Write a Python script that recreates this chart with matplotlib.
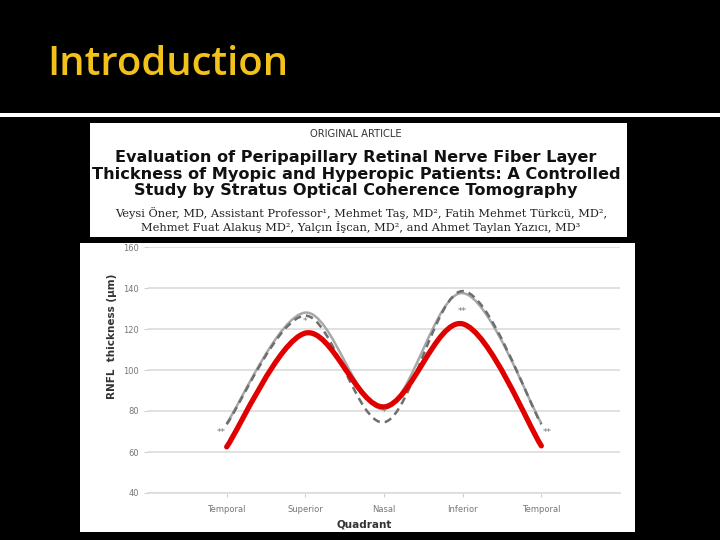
import numpy as np
import matplotlib
matplotlib.use("Agg")
import matplotlib.pyplot as plt
from matplotlib.path import Path
from matplotlib.patches import PathPatch, Rectangle

# data
quadrants = ["Temporal", "Superior", "Nasal", "Inferior", "Temporal"]
control_gray = [74, 128, 81, 137.5, 74]     # solid light gray
myopic_dash = [73.5, 126.5, 74.5, 138.5, 73.5]  # dashed dark gray
hyper_red = [62.5, 118, 82, 122.5, 63]     # red hand-drawn line

# significance marks (quadrant position, value, text)
star_x = [0.93, 2.0, 3.0, 4.0, 5.07]
star_y = [69.5, 123.5, 79.5, 128.5, 69.5]
star_txt = ["**", "*", "*", "**", "**"]

yticks = [40, 60, 80, 100, 120, 140, 160]


def smooth_path(xs, ys):
    # Catmull-Rom -> cubic bezier, like a "smoothed line" in a spreadsheet
    pts = np.column_stack([xs, ys]).astype(float)
    ext = np.vstack([pts[0], pts, pts[-1]])
    verts = [tuple(pts[0])]
    codes = [Path.MOVETO]
    for i in range(1, len(ext) - 2):
        p0, p1, p2, p3 = ext[i - 1], ext[i], ext[i + 1], ext[i + 2]
        c1 = p1 + (p2 - p0) / 6.0
        c2 = p2 - (p3 - p1) / 6.0
        verts += [tuple(c1), tuple(c2), tuple(p2)]
        codes += [Path.CURVE4] * 3
    return Path(verts, codes)


W, H = 720, 540
fig = plt.figure(figsize=(7.2, 5.4), dpi=100)
fig.patch.set_facecolor("black")


def fx(px):
    return px / W


def fy(py):
    return 1 - py / H


# slide title and rule
fig.text(fx(47), fy(75), "Introduction", color="#F2C21B", fontsize=28.8,
         family="Open Sans", fontweight="semibold", va="baseline", ha="left")
fig.add_artist(Rectangle((0, fy(117)), 1, 3.5 / H, transform=fig.transFigure,
                         facecolor="white", edgecolor="none", zorder=-1))

# article header box
fig.add_artist(Rectangle((fx(90), fy(237)), fx(627) - fx(90), (237 - 123) / H,
                         transform=fig.transFigure, facecolor="white", edgecolor="none", zorder=-1))
cx = fx(356)
fig.text(cx, fy(134), "ORIGINAL ARTICLE", ha="center", va="center",
         fontsize=7.2, color="#333333", family="DejaVu Sans")
title_lines = ["Evaluation of Peripapillary Retinal Nerve Fiber Layer",
               "Thickness of Myopic and Hyperopic Patients: A Controlled",
               "Study by Stratus Optical Coherence Tomography"]
for k, line in enumerate(title_lines):
    fig.text(cx, fy(158 + 16.3 * k), line, ha="center", va="center",
             fontsize=11.6, fontweight="bold", color="#111111", family="DejaVu Sans")
authors = ["Veysi Öner, MD, Assistant Professor¹, Mehmet Taş, MD², Fatih Mehmet Türkcü, MD²,",
           "Mehmet Fuat Alakuş MD², Yalçın İşcan, MD², and Ahmet Taylan Yazıcı, MD³"]
for k, line in enumerate(authors):
    fig.text(fx(361), fy(213 + 13.5 * k), line, ha="center", va="center",
             fontsize=8.2, color="#222222", family="DejaVu Serif")

# chart picture background
fig.add_artist(Rectangle((fx(80), fy(532)), fx(635) - fx(80), (532 - 243) / H,
                         transform=fig.transFigure, facecolor="white", edgecolor="none", zorder=-1))

ax = fig.add_axes([fx(148), fy(493), fx(620) - fx(148), (493 - 247) / H])
ax.set_zorder(3)
ax.set_facecolor("none")
ax.set_xlim(0, 6)
ax.set_ylim(40, 160)
ax.set_yticks(yticks)
ax.set_xticks(range(1, len(quadrants) + 1))
ax.set_xticklabels(quadrants)
ax.grid(axis="y", color="#dcdcdc", lw=1.2)
ax.set_axisbelow(True)
for s in ["top", "right", "left"]:
    ax.spines[s].set_visible(False)
ax.spines["bottom"].set_color("#dcdcdc")
ax.spines["bottom"].set_linewidth(1.2)
ax.tick_params(axis="both", colors="#d0d0d0", labelcolor="#777777", labelsize=6, length=3)
ax.tick_params(axis="x", pad=6)
ax.set_ylabel("RNFL  thickness (µm)", fontsize=7.5, fontweight="bold", color="#333333")
ax.yaxis.set_label_coords(-0.066, 0.638)
ax.set_xlabel("Quadrant", fontsize=7.5, fontweight="bold", color="#333333")
ax.xaxis.set_label_coords(0.458, -0.106)

xs = np.arange(1, len(quadrants) + 1)
ax.add_patch(PathPatch(smooth_path(xs, control_gray), fill=False, edgecolor="#a8a8a8", lw=1.8))
ax.add_patch(PathPatch(smooth_path(xs, myopic_dash), fill=False, edgecolor="#6e6e6e",
                       lw=1.8, linestyle=(0, (3, 2))))
ax.add_patch(PathPatch(smooth_path(xs, hyper_red), fill=False, edgecolor="#e00000",
                       lw=3.8, capstyle="round", joinstyle="round"))

for x, y, t in zip(star_x, star_y, star_txt):
    ax.text(x, y, t, ha="center", va="center", fontsize=6.5, color="#777777")

fig.savefig("out.png", dpi=100, facecolor=fig.get_facecolor())
